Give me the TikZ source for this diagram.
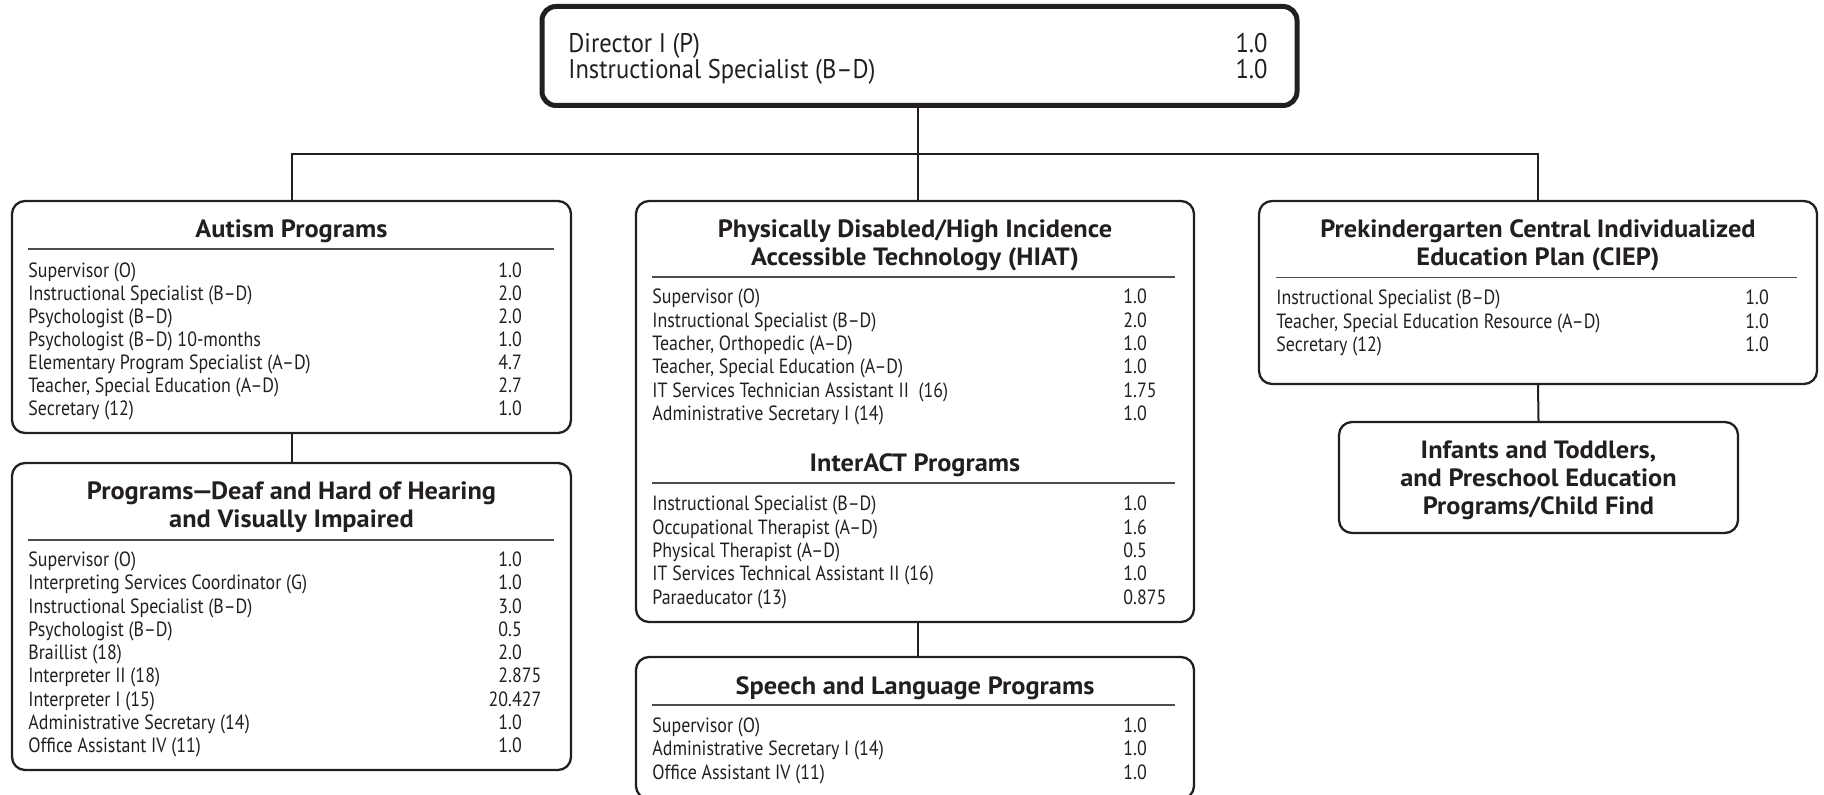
\documentclass[tikz,border=0pt]{standalone}
\usepackage{fontspec}
\usetikzlibrary{fit}
\setmainfont{PT Sans}
\newfontfamily\rowfam[FakeStretch=0.87]{PT Sans}
\newfontfamily\topfam[FakeStretch=0.91]{PT Sans}
\newfontfamily\ttlfam[FakeStretch=1.055]{PT Sans}
\definecolor{ink}{HTML}{231F20}
\newcommand\rowsize{\rowfam\fontsize{10.3}{11.5}\selectfont}
\newlength\intw
\AtBeginDocument{\settowidth\intw{\rowsize 0}}
\newcommand\dv[2]{\makebox[\intw][r]{#1}.#2}
% row: name, xlabel, xvalue, baseline y, label, int, frac
\newcommand\jrow[7]{%
  \node[rowtxt] (#1) at (#2,#4) {#5};
  \node[rowtxt] (#1v) at (#3,#4) {\dv{#6}{#7}};}
\tikzset{
  rowtxt/.style={anchor=base west, inner sep=0pt, font=\rowsize, text=ink},
  ttl/.style={align=center, inner sep=0pt, anchor=base, text=ink,
    font=\ttlfam\bfseries\fontsize{12.5}{14}\selectfont},
  orgbox/.style={draw=ink, line width=1.15pt, rounded corners=6.5pt, inner sep=0pt},
  topbox/.style={draw=ink, line width=2.5pt, rounded corners=7pt, inner sep=0pt},
  conn/.style={draw=ink, line width=1pt},
  hrule/.style={draw=ink!80, line width=0.65pt},
  toptxt/.style={inner sep=0pt, text=ink, font=\topfam\fontsize{13.5}{14}\selectfont}
}
\begin{document}
\begin{tikzpicture}[x=0.5pt,y=-0.5pt]
\useasboundingbox (0,0) rectangle (1824,795);
% ---- boxes
\node[topbox, fit={(542,6.5) (1297,105.5)}] (top) {};
\node[orgbox, fit={(12,201) (571,433)}] (autism) {};
\node[orgbox, fit={(12,463) (571,770)}] (dhh) {};
\node[orgbox, fit={(636,201) (1194,622)}] (hiat) {};
\node[orgbox, fit={(636,657) (1194,799)}] (speech) {};
\node[orgbox, fit={(1259,201) (1817,384)}] (ciep) {};
\node[orgbox, fit={(1339,422) (1738,533)}] (infants) {};
% ---- connectors
\coordinate (bus) at (918,154);
\coordinate (tdrop) at (918,105.5);
\draw[conn] (tdrop) -- (tdrop |- hiat.north);
\draw[conn] (autism.north) -- (autism.north |- bus) -- (ciep.north |- bus) -- (ciep.north);
\draw[conn] (autism.south) -- (dhh.north);
\draw[conn] (tdrop |- hiat.south) -- (tdrop |- speech.north);
\draw[conn] (ciep.south) -- (infants.north);
% ---- top box
\node[toptxt, anchor=base west] (t1) at (568,52.5) {Director I (P)};
\node[toptxt, anchor=base east] (t1v) at (1268,52.5) {1.0};
\node[toptxt, anchor=base west] (t2) at (568,79) {Instructional Specialist (B–D)};
\node[toptxt, anchor=base east] (t2v) at (1268,79) {1.0};
% ---- Autism
\node[ttl] (autT) at (291.5,237.5) {Autism Programs};
\draw[hrule] (28,249) -- (554,249);
\jrow{a1}{28}{498}{277.3}{Supervisor (O)}{1}{0}
\jrow{a2}{28}{498}{300.4}{Instructional Specialist (B–D)}{2}{0}
\jrow{a3}{28}{498}{323.4}{Psychologist (B–D)}{2}{0}
\jrow{a4}{28}{498}{346.5}{Psychologist (B–D) 10-months}{1}{0}
\jrow{a5}{28}{498}{369.6}{Elementary Program Specialist (A–D)}{4}{7}
\jrow{a6}{28}{498}{392.7}{Teacher, Special Education (A–D)}{2}{7}
\jrow{a7}{28}{498}{415.7}{Secretary (12)}{1}{0}
% ---- DHH
\node[ttl] (dhhT) at (291.5,528) {Programs\kern-0.08em—\kern-0.08em Deaf and Hard of Hearing\\and Visually Impaired};
\draw[hrule] (28,540) -- (554,540);
\jrow{d1}{28}{498}{566.5}{Supervisor (O)}{1}{0}
\jrow{d2}{28}{498}{589.8}{Interpreting Services Coordinator (G)}{1}{0}
\jrow{d3}{28}{498}{613.0}{Instructional Specialist (B–D)}{3}{0}
\jrow{d4}{28}{498}{636.3}{Psychologist (B–D)}{0}{5}
\jrow{d5}{28}{498}{659.6}{Braillist (18)}{2}{0}
\jrow{d6}{28}{498}{682.9}{Interpreter II (18)}{2}{875}
\jrow{d7}{28}{498}{706.1}{Interpreter I (15)}{20}{427}
\jrow{d8}{28}{498}{729.4}{Administrative Secretary (14)}{1}{0}
\jrow{d9}{28}{498}{752.7}{Office Assistant IV (11)}{1}{0}
% ---- HIAT
\node[ttl] (hiatT) at (915,265.5) {Physically Disabled/High Incidence\\Accessible Technology (HIAT)};
\draw[hrule] (652,277) -- (1175,277);
\jrow{h1}{652}{1123}{304.0}{Supervisor (O)}{1}{0}
\jrow{h2}{652}{1123}{327.3}{Instructional Specialist (B–D)}{2}{0}
\jrow{h3}{652}{1123}{350.5}{Teacher, Orthopedic (A–D)}{1}{0}
\jrow{h4}{652}{1123}{373.8}{Teacher, Special Education (A–D)}{1}{0}
\jrow{h5}{652}{1123}{397.1}{IT Services Technician Assistant II~ (16)}{1}{75}
\jrow{h6}{652}{1123}{420.4}{Administrative Secretary I (14)}{1}{0}
\node[ttl] (iaT) at (915,472) {InterACT Programs};
\draw[hrule] (652,483) -- (1175,483);
\jrow{i1}{652}{1123}{511.0}{Instructional Specialist (B–D)}{1}{0}
\jrow{i2}{652}{1123}{534.3}{Occupational Therapist (A–D)}{1}{6}
\jrow{i3}{652}{1123}{557.5}{Physical Therapist (A–D)}{0}{5}
\jrow{i4}{652}{1123}{580.8}{IT Services Technical Assistant II (16)}{1}{0}
\jrow{i5}{652}{1123}{604.1}{Paraeducator (13)}{0}{875}
% ---- Speech
\node[ttl] (spT) at (915,694.5) {Speech and Language Programs};
\draw[hrule] (652,705) -- (1175,705);
\jrow{s1}{652}{1123}{732.5}{Supervisor (O)}{1}{0}
\jrow{s2}{652}{1123}{755.8}{Administrative Secretary I (14)}{1}{0}
\jrow{s3}{652}{1123}{779.0}{Office Assistant IV (11)}{1}{0}
% ---- CIEP
\node[ttl] (ciepT) at (1538,266) {Prekindergarten Central Individualized\\Education Plan (CIEP)};
\draw[hrule] (1276,277.7) -- (1797,277.7);
\jrow{c1}{1276}{1745}{305.0}{Instructional Specialist (B–D)}{1}{0}
\jrow{c2}{1276}{1745}{328.3}{Teacher, Special Education Resource (A–D)}{1}{0}
\jrow{c3}{1276}{1745}{351.5}{Secretary (12)}{1}{0}
% ---- Infants
\node[ttl] (infT) at (1538.5,515) {Infants and Toddlers,\\and Preschool Education\\Programs/Child Find};
\end{tikzpicture}
\end{document}
